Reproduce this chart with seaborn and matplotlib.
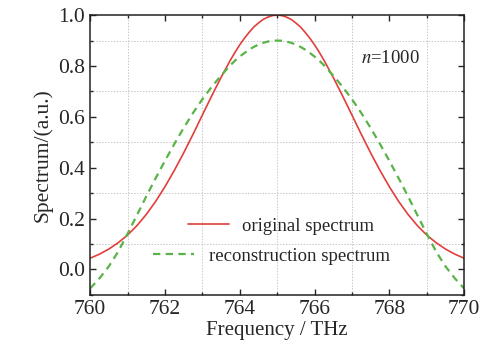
import matplotlib
matplotlib.use("Agg")
import matplotlib.pyplot as plt
from matplotlib.ticker import MultipleLocator, FormatStrFormatter
from matplotlib.lines import Line2D
import seaborn as sns
import pandas as pd

# frequency grid (THz), denser around the peak
freq = [760.0, 760.25, 760.5, 760.75, 761.0, 761.25, 761.5, 761.75, 762.0, 762.25,
        762.5, 762.75, 763.0, 763.25, 763.5, 763.75, 763.875, 764.0, 764.125, 764.25,
        764.375, 764.5, 764.625, 764.75, 764.875, 765.0, 765.125, 765.25, 765.375, 765.5,
        765.625, 765.75, 765.875, 766.0, 766.125, 766.25, 766.5, 766.75, 767.0, 767.25,
        767.5, 767.75, 768.0, 768.25, 768.5, 768.75, 769.0, 769.25, 769.5, 769.75, 770.0]

# original spectrum
original = [0.044, 0.060, 0.080, 0.105, 0.135, 0.172, 0.216, 0.267, 0.325, 0.389,
            0.458, 0.531, 0.607, 0.682, 0.755, 0.823, 0.854, 0.883, 0.909, 0.932,
            0.953, 0.969, 0.983, 0.992, 0.998, 1.000, 0.998, 0.992, 0.983, 0.969,
            0.953, 0.932, 0.909, 0.883, 0.854, 0.823, 0.755, 0.682, 0.607, 0.531,
            0.458, 0.389, 0.325, 0.267, 0.216, 0.172, 0.135, 0.105, 0.080, 0.060, 0.044]

# reconstruction spectrum
reconstruction = [-0.075, -0.035, 0.012, 0.070, 0.140, 0.213, 0.287, 0.358, 0.427, 0.493,
                  0.556, 0.615, 0.669, 0.718, 0.762, 0.803, 0.821, 0.837, 0.851, 0.864,
                  0.875, 0.884, 0.891, 0.896, 0.899, 0.900, 0.899, 0.896, 0.891, 0.884,
                  0.875, 0.864, 0.851, 0.837, 0.821, 0.803, 0.762, 0.718, 0.669, 0.615,
                  0.556, 0.493, 0.427, 0.358, 0.287, 0.213, 0.140, 0.070, 0.012, -0.035, -0.075]

labels = ["original spectrum", "reconstruction spectrum"]
red = "#e23e3b"
green = "#58b446"
dash = (0, (3.3, 2.4))

sns.set_style("ticks")
plt.rcParams["font.family"] = ["Liberation Serif", "DejaVu Serif"]
plt.rcParams["mathtext.fontset"] = "stix"

df = pd.DataFrame({"freq": freq, "original": original, "reconstruction": reconstruction})

fig = plt.figure(figsize=(4.82, 3.51), dpi=100)
ax = fig.add_axes([0.187, 0.160, 0.776, 0.797])

sns.lineplot(data=df, x="freq", y="original", ax=ax, color=red, linewidth=1.2)
sns.lineplot(data=df, x="freq", y="reconstruction", ax=ax, color=green,
             linewidth=1.6, linestyle=dash)

ax.set_xlim(760, 770)
ax.set_ylim(-0.1, 1.0)
ax.xaxis.set_major_locator(MultipleLocator(2))
ax.xaxis.set_minor_locator(MultipleLocator(1))
ax.yaxis.set_major_locator(MultipleLocator(0.2))
ax.yaxis.set_minor_locator(MultipleLocator(0.1))
ax.yaxis.set_major_formatter(FormatStrFormatter("%.1f"))
ax.grid(which="minor", color="#c8c8c8", linestyle=(0, (1.5, 1.5)), linewidth=0.7)
ax.grid(which="major", visible=False)

ax.tick_params(which="both", direction="in", top=True, right=True, labelsize=15.5)
ax.tick_params(which="major", length=4, width=1)
ax.tick_params(which="minor", length=2.5, width=1)
for s in ax.spines.values():
    s.set_linewidth(1.1)
    s.set_color("#222222")

ax.set_xlabel("Frequency / THz", fontsize=15, labelpad=2)
ax.set_ylabel("Spectrum/(a.u.)", fontsize=15.5, labelpad=4)

ax.text(0.882, 0.846, r"$n$=1000", transform=ax.transAxes, fontsize=13.5,
        ha="right", va="center")

h1 = Line2D([], [], color=red, linewidth=1.2)
h2 = Line2D([], [], color=green, linewidth=1.6, linestyle=dash)
leg1 = ax.legend([h1], [labels[0]], loc="center left", bbox_to_anchor=(0.262, 0.246),
                 frameon=False, fontsize=13.5, handlelength=2.2, handletextpad=0.65,
                 borderpad=0, borderaxespad=0)
ax.add_artist(leg1)
ax.legend([h2], [labels[1]], loc="center left", bbox_to_anchor=(0.168, 0.139),
          frameon=False, fontsize=13.5, handlelength=2.2, handletextpad=0.8,
          borderpad=0, borderaxespad=0)

fig.savefig("out.png", dpi=100)
